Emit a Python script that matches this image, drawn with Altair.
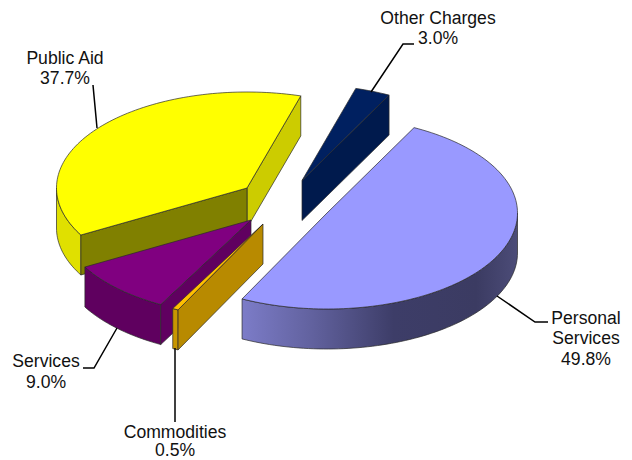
import math
import altair as alt
import pandas as pd

# Values
categories = ["Personal Services", "Commodities", "Services", "Public Aid", "Other Charges"]
shares = [49.8, 0.5, 9.0, 37.7, 3.0]
share_labels = ["49.8%", "0.5%", "9.0%", "37.7%", "3.0%"]

# Geometry of the tilted, exploded pie (screen-pixel units of the scales)
START_DEG = -62.8
RX, RY, DEPTH = 190.5, 96.0, 40.0
apex_x = [327.0, 263.0, 251.0, 247.0, 302.0]
apex_y = [213.0, 224.0, 220.0, 188.0, 180.5]

top_colors = ["#9999ff", "#ffbf00", "#800080", "#ffff00", "#002060"]
outer_colors = [None, "#c89600", "#5f005f", "#e0e000", None]
start_wall = [None, "#b88a00", "#600060", "#808000", None]
side_wall = {3: "#cccc00", 4: "#001a4d"}

personal_side = alt.Gradient(
    gradient="linear", x1=0, x2=1, y1=0, y2=0,
    stops=[
        alt.GradientStop(offset=0.0, color="#7c7cc8"),
        alt.GradientStop(offset=0.25, color="#62629f"),
        alt.GradientStop(offset=0.55, color="#3d3d68"),
        alt.GradientStop(offset=0.85, color="#3b3b62"),
        alt.GradientStop(offset=1.0, color="#4c4c78"),
    ],
)

# Text and leader lines
label_lines = [
    ("Other Charges", 438, 18.5), ("3.0%", 438, 38.5),
    ("Public Aid", 65, 58.5), ("37.7%", 65, 78.5),
    ("Personal", 586, 318.5), ("Services", 586, 338.5), ("49.8%", 586, 359.5),
    ("Services", 46, 361.5), ("9.0%", 46, 382.5),
    ("Commodities", 175, 432.5), ("0.5%", 175, 451),
]
leaders = [
    [(414, 44), (403, 44), (371, 92)],
    [(93, 85), (97, 128)],
    [(497, 296), (535, 322), (548, 322)],
    [(83, 368), (94, 368), (117, 328)],
    [(175, 348), (175, 422)],
]

X = alt.X("x:Q", axis=None, scale=alt.Scale(domain=[8, 624], nice=False, zero=False))
Y = alt.Y("y:Q", axis=None, scale=alt.Scale(domain=[460, 8], nice=False, zero=False))


def rim(i, a, b, dz=0.0):
    n = max(2, int(abs(b - a) / 1.5) + 2)
    pts = []
    for k in range(n):
        t = math.radians(a + (b - a) * k / (n - 1))
        pts.append((apex_x[i] + RX * math.cos(t), apex_y[i] + RY * math.sin(t) + dz))
    return pts


def poly(points, fill, stroke="#2a2a2a", width=0.7):
    closed = points + [points[0]]
    df = pd.DataFrame({"x": [p[0] for p in closed], "y": [p[1] for p in closed],
                       "o": list(range(len(closed)))})
    return alt.Chart(df).mark_line(
        fill=fill, stroke=stroke, strokeWidth=width, interpolate="linear",
        strokeJoin="round", clip=False,
    ).encode(x=X, y=Y, order="o:Q")


spans = []
angle = START_DEG
for s in shares:
    spans.append((angle, angle + s * 3.6))
    angle += s * 3.6


def wall(i, a):
    p = rim(i, a, a)[0]
    c = (apex_x[i], apex_y[i])
    return [c, p, (p[0], p[1] + DEPTH), (c[0], c[1] + DEPTH)]


layers = []
for i in [3, 4, 0, 2, 1]:
    a, b = spans[i]
    if i == 3:
        layers.append(poly(wall(i, b), side_wall[3]))
    if i == 4:
        layers.append(poly(wall(i, b), side_wall[4]))
    if i == 0:
        arc = rim(i, 0, b)
        low = rim(i, 0, b, DEPTH)
        layers.append(poly(arc + low[::-1], personal_side))
    if outer_colors[i]:
        lo = max(a, 0)
        hi = min(b, 180)
        arc = rim(i, lo, hi)
        low = rim(i, lo, hi, DEPTH)
        layers.append(poly(arc + low[::-1], outer_colors[i]))
    if start_wall[i]:
        layers.append(poly(wall(i, a), start_wall[i]))
    layers.append(poly([(apex_x[i], apex_y[i])] + rim(i, a, b), top_colors[i]))

for line in leaders:
    df = pd.DataFrame({"x": [p[0] for p in line], "y": [p[1] for p in line],
                       "o": list(range(len(line)))})
    layers.append(alt.Chart(df).mark_line(color="black", strokeWidth=1.5).encode(x=X, y=Y, order="o:Q"))

text_df = pd.DataFrame(label_lines, columns=["t", "x", "y"])
layers.append(alt.Chart(text_df).mark_text(
    font="Liberation Sans", fontSize=17.6, color="#111111", align="center", baseline="middle"
).encode(x=X, y=Y, text="t:N"))

chart = alt.layer(*layers).properties(
    width=616, height=452, padding=0,
    autosize=alt.AutoSizeParams(type="none"),
).configure_view(stroke=None)

chart.save("out.html", embed_options={"renderer": "svg", "actions": False})
